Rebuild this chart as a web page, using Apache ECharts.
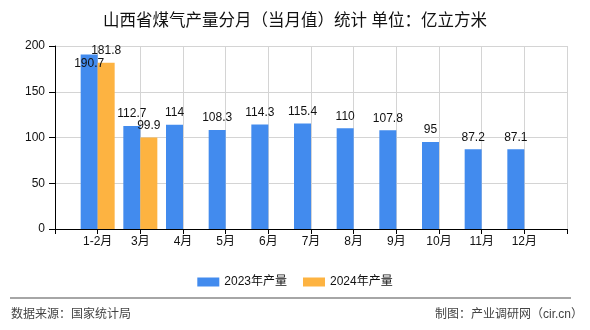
<!DOCTYPE html>
<html>
<head>
<meta charset="utf-8">
<script src="https://cdn.jsdelivr.net/npm/echarts@6/dist/echarts.min.js"></script>
<style>
html,body{margin:0;padding:0;background:#fff;}
#chart{width:590px;height:330px;}
</style>
</head>
<body>
<div id="chart"></div>
<script>
var categories = ['1-2月','3月','4月','5月','6月','7月','8月','9月','10月','11月','12月'];
var values2023 = [190.7,112.7,114,108.3,114.3,115.4,110,107.8,95,87.2,87.1];
var values2024 = [181.8,99.9];
var yTicks = [0,50,100,150,200];
var seriesNames = ['2023年产量','2024年产量'];

var FONT = '"Liberation Sans","Noto Sans CJK SC",sans-serif';

function pad(arr){
  var out=[null];
  for(var i=0;i<categories.length;i++){ out.push(i<arr.length?arr[i]:null); }
  out.push(null);
  return out;
}
var axisCats = [''].concat(categories).concat(['']);
var d2023 = pad(values2023);
// first 2023 label drawn inside bar top, as in reference
d2023[1] = {value: d2023[1], label:{position:'insideTop', distance:3}};

var chart = echarts.init(document.getElementById('chart'), null, {renderer:'canvas'});
chart.setOption({
  animation:false,
  backgroundColor:'#fff',
  textStyle:{fontFamily:FONT},
  title:{
    text:'山西省煤气产量分月（当月值）统计 单位：亿立方米',
    left:'center', top:8,
    textStyle:{fontSize:16.5,fontWeight:'normal',color:'#111',fontFamily:FONT}
  },
  legend:{
    data:seriesNames,
    left:'center', top:271,
    itemWidth:22, itemHeight:9, itemGap:16,
    icon:'rect',
    textStyle:{fontSize:12,color:'#111',fontFamily:FONT}
  },
  grid:{left:55,right:23,top:46,bottom:101,containLabel:false},
  xAxis:{
    type:'category',
    boundaryGap:false,
    data:axisCats,
    axisLine:{lineStyle:{color:'#000',width:1}},
    axisTick:{show:true,length:5,lineStyle:{color:'#000'}},
    axisLabel:{interval:0,margin:7,fontSize:12,color:'#111',fontFamily:FONT},
    splitLine:{show:true,lineStyle:{color:'#d4d4d4',width:1}}
  },
  yAxis:{
    type:'value',
    min:yTicks[0], max:yTicks[yTicks.length-1], interval:50,
    axisLine:{show:true,lineStyle:{color:'#000',width:1}},
    axisTick:{show:true,length:6,lineStyle:{color:'#000'}},
    axisLabel:{margin:10,fontSize:12,color:'#111',fontFamily:FONT},
    splitLine:{show:true,lineStyle:{color:'#d4d4d4',width:1}}
  },
  series:[
    {
      name:seriesNames[0], type:'bar', data:d2023,
      barWidth:17, barGap:'0%',
      itemStyle:{color:'#428bee'},
      label:{show:true,position:'top',distance:6,fontSize:12,color:'#111',fontFamily:FONT}
    },
    {
      name:seriesNames[1], type:'bar', data:pad(values2024),
      barWidth:17, barGap:'0%',
      itemStyle:{color:'#fdb341'},
      label:{show:true,position:'top',distance:6,fontSize:12,color:'#111',fontFamily:FONT}
    }
  ],
  graphic:[
    {type:'line',shape:{x1:10,y1:298,x2:571,y2:298},style:{stroke:'#888',lineWidth:1.5},silent:true},
    {type:'text',left:11,top:309,style:{text:'数据来源：国家统计局',fill:'#444',font:'12px '+FONT}},
    {type:'text',right:7,top:309,style:{text:'制图：产业调研网（cir.cn）',fill:'#444',font:'12px '+FONT}}
  ]
});
</script>
</body>
</html>
